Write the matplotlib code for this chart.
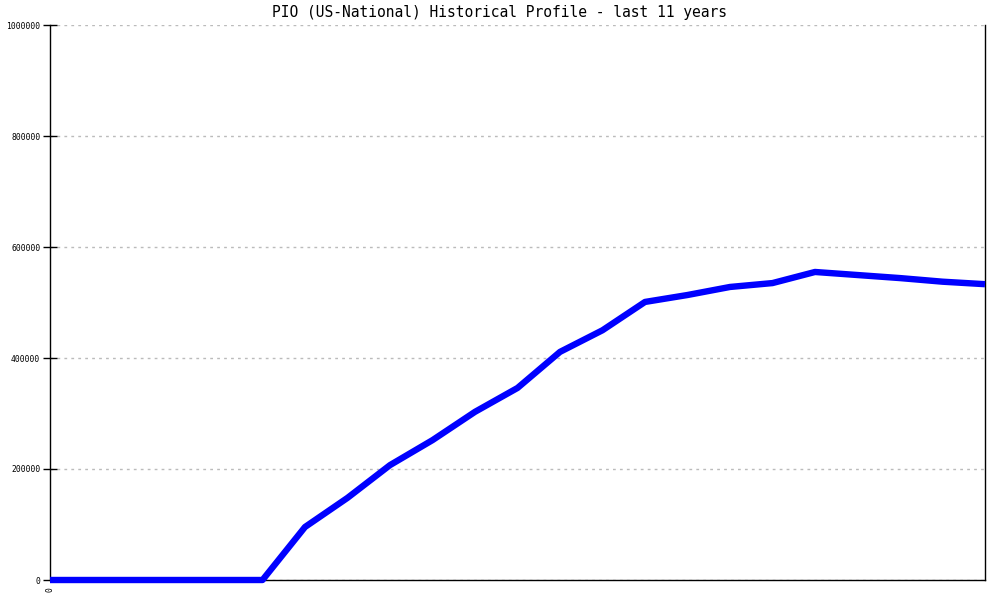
import matplotlib
matplotlib.use("Agg")
import matplotlib.pyplot as plt

# Half-year steps over the last 11 years
periods = list(range(23))
values = [0, 0, 0, 0, 0, 0, 95500, 148000, 207000, 252000, 303000, 346000,
          411000, 450000, 501000, 513500, 528000, 535000, 555000, 549500,
          544000, 537500, 533000]
y_ticks = [0, 200000, 400000, 600000, 800000, 1000000]
title = "PIO (US-National) Historical Profile - last 11 years"

fig = plt.figure(figsize=(10, 6), dpi=100)
ax = fig.add_axes([0.05, 1 - 580 / 600, 0.935, 555 / 600])

ax.plot(periods, values, color="#0000FF", linewidth=4.6, solid_joinstyle="round",
        solid_capstyle="butt", zorder=3, clip_on=False)

ax.set_xlim(0, 22)
ax.set_ylim(0, 1000000)
ax.set_yticks(y_ticks)
ax.set_yticklabels([str(v) for v in y_ticks], fontfamily="DejaVu Sans Mono", fontsize=5.8)
ax.set_xticks([0])
ax.set_xticklabels(["0"], rotation=90, fontfamily="DejaVu Sans Mono", fontsize=5.8)
ax.tick_params(axis="y", direction="inout", length=10, width=1, pad=2)
ax.tick_params(axis="x", length=0, pad=5)

ax.grid(axis="y", color="#bbbbbb", linestyle=(0, (2, 3)), linewidth=1)
ax.set_axisbelow(True)

ax.spines["top"].set_visible(False)
for s in ["left", "bottom", "right"]:
    ax.spines[s].set_color("black")
    ax.spines[s].set_linewidth(1)

fig.text(0.5, 1 - 13 / 600, title, ha="center", va="center",
         fontfamily="DejaVu Sans Mono", fontsize=10.5)

fig.savefig("out.png", dpi=100)
